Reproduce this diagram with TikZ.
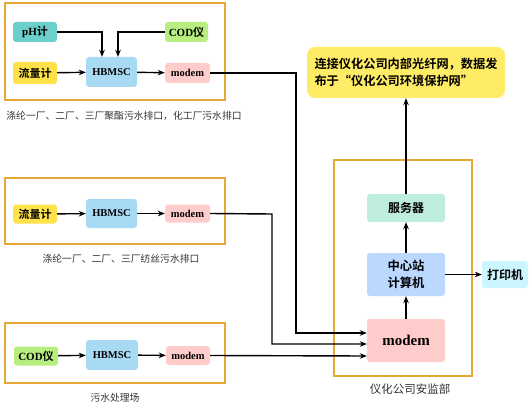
\documentclass[tikz,border=0pt]{standalone}
\usepackage{fontspec}
\setmainfont{Liberation Serif}
\newfontfamily\cjk{Noto Sans CJK SC}[BoldFont={Noto Sans CJK SC Bold}]
\usetikzlibrary{arrows.meta,calc}
\definecolor{frameC}{HTML}{E8A838}
\definecolor{tealC}{HTML}{6CCFCC}
\definecolor{greenC}{HTML}{B8EE80}
\definecolor{yelC}{HTML}{FFE14A}
\definecolor{hbC}{HTML}{A8DAF4}
\definecolor{pinkC}{HTML}{FFCCCC}
\definecolor{mintC}{HTML}{C0EEDC}
\definecolor{cpuC}{HTML}{BBD8FF}
\definecolor{prnC}{HTML}{CCF6FF}
\definecolor{noteC}{HTML}{FFEC66}
\definecolor{labC}{HTML}{333333}
\tikzset{
  box/.style={rounded corners=3pt, inner sep=0pt, align=center, font=\fontsize{11}{13}\selectfont\bfseries},
  frame/.style={draw=frameC, line width=1.8pt, inner sep=0pt},
  lab/.style={text=labC, font=\fontsize{9.8}{11}\selectfont\cjk, inner sep=0pt},
  conn/.style={line width=1.4pt, -{Stealth[length=7pt,width=5.5pt]}},
  wire/.style={line width=1.4pt},
}
\begin{document}
\begin{tikzpicture}[x=1pt,y=-1pt]
\useasboundingbox (0,0) rectangle (529,406);
% frames
\node[frame, minimum width=220pt, minimum height=97pt] (f1) at (115,51.5) {};
\node[frame, minimum width=220pt, minimum height=66pt] (f2) at (115,211) {};
\node[frame, minimum width=220pt, minimum height=60pt] (f3) at (115,353) {};
\node[frame, minimum width=138pt, minimum height=216pt] (f4) at (403,268) {};
% group 1
\node[box, fill=tealC, minimum width=44pt, minimum height=20pt] (ph) at (35,32) {pH{\cjk\bfseries 计}};
\node[box, fill=greenC, minimum width=43pt, minimum height=20pt] (cod1) at (186.5,32) {COD{\cjk\bfseries 仪}};
\node[box, fill=yelC, minimum width=44pt, minimum height=22pt] (fl1) at (35,73) {\cjk\bfseries 流量计};
\node[box, fill=hbC, minimum width=51pt, minimum height=30pt, font=\fontsize{10.5}{12}\selectfont\bfseries] (hb1) at (111.5,72) {HBMSC};
\node[box, fill=pinkC, minimum width=45pt, minimum height=20pt, font=\fontsize{10.5}{12}\selectfont\bfseries] (md1) at (187.5,73) {modem};
\node[lab] (l1) at (124,116) {涤纶一厂、二厂、三厂聚酯污水排口，化工厂污水排口};
% group 2
\node[box, fill=yelC, minimum width=44pt, minimum height=19pt] (fl2) at (35,214) {\cjk\bfseries 流量计};
\node[box, fill=hbC, minimum width=51pt, minimum height=29pt, font=\fontsize{10.5}{12}\selectfont\bfseries] (hb2) at (111.5,213.5) {HBMSC};
\node[box, fill=pinkC, minimum width=45pt, minimum height=18pt, font=\fontsize{10.5}{12}\selectfont\bfseries] (md2) at (187.5,213.5) {modem};
\node[lab] (l2) at (121,259) {涤纶一厂、二厂、三厂纺丝污水排口};
% group 3
\node[box, fill=greenC, minimum width=44pt, minimum height=19pt] (cod3) at (36,356) {COD{\cjk\bfseries 仪}};
\node[box, fill=hbC, minimum width=52pt, minimum height=30pt, font=\fontsize{10.5}{12}\selectfont\bfseries] (hb3) at (112,355) {HBMSC};
\node[box, fill=pinkC, minimum width=44pt, minimum height=19pt, font=\fontsize{10.5}{12}\selectfont\bfseries] (md3) at (188,355.5) {modem};
\node[lab] (l3) at (115,398) {污水处理场};
% right
\node[box, fill=mintC, minimum width=78pt, minimum height=28pt, font=\fontsize{12}{14}\selectfont\cjk\bfseries] (srv) at (406,208) {服务器};
\node[box, fill=cpuC, minimum width=78pt, minimum height=43pt, font=\fontsize{12.3}{17}\selectfont\cjk\bfseries] (cpu) at (406,274.5) {中心站\\计算机};
\node[box, fill=pinkC, minimum width=78pt, minimum height=43pt, font=\fontsize{15}{17}\selectfont\bfseries] (mdb) at (406,340.5) {modem};
\node[box, fill=prnC, minimum width=46pt, minimum height=27pt, font=\fontsize{12}{14}\selectfont\cjk\bfseries] (prn) at (505,274.5) {打印机};
\node[box, fill=noteC, rounded corners=8pt, minimum width=198pt, minimum height=51pt, align=left, font=\fontsize{12.2}{17}\selectfont\cjk\bfseries] (note) at (406,72.5) {连接仪化公司内部光纤网，数据发\\布于“仪化公司环境保护网”};
\node[lab, font=\fontsize{11.5}{13}\selectfont\cjk] (l4) at (410,389) {仪化公司安监部};
% connectors group 1
\draw[conn] (ph.east) -| ($(hb1.north)+(-9.5,0)$);
\draw[conn] (cod1.west) -| ($(hb1.north)+(6.5,0)$);
\draw[conn] (fl1) -- (hb1);
\draw[conn] (hb1) -- (md1);
\draw[conn] (fl2) -- (hb2);
\draw[conn] (hb2) -- (md2);
\draw[conn] (cod3) -- (hb3);
\draw[conn] (hb3) -- (md3);
% long wires
\coordinate (b1) at (296,73);
\coordinate (b2) at (272,214);
\draw[conn] (md1.east) -- (b1) |- ($(mdb.west)+(0,-7.5)$);
\draw[conn] (md2.east) -- (b2) |- ($(mdb.west)+(0,3.5)$);
\draw[conn] (md3.east) -- ($(mdb.west)+(0,15.5)$);
% right connectors
\draw[conn] (mdb) -- (cpu);
\draw[conn] (cpu) -- (srv);
\draw[conn] (cpu) -- (prn);
\draw[conn] (srv) -- (note);
\end{tikzpicture}
\end{document}
